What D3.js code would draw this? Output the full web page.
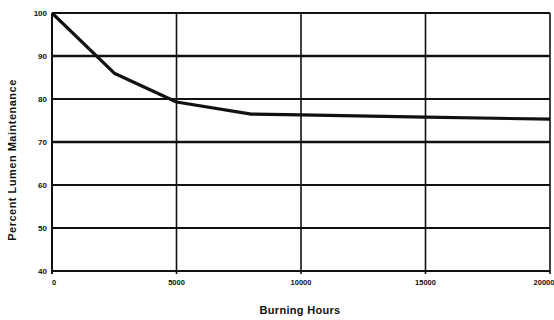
<!DOCTYPE html>
<html>
<head>
<meta charset="utf-8">
<script src="https://cdn.jsdelivr.net/npm/d3@7"></script>
<style>
  html, body { margin: 0; padding: 0; background: #fff; }
  svg { display: block; }
  text { font-family: "Liberation Sans", Arial, sans-serif; font-weight: bold; fill: #111; }
</style>
</head>
<body>
<svg id="chart" width="554" height="320"></svg>
<script>
// Lumen maintenance curve: burning hours vs. percent of initial output
const hours   = [0, 2500, 5000, 8000, 10000, 15000, 20000];
const percent = [100, 86.0, 79.3, 76.5, 76.3, 75.8, 75.3];

const xTicks = [0, 5000, 10000, 15000, 20000];
const yTicks = [40, 50, 60, 70, 80, 90, 100];

const xTitle = "Burning Hours";
const yTitle = "Percent Lumen Maintenance";

const svg = d3.select("#chart");
const margin = { left: 52, right: 4, top: 13, bottom: 49 };
const W = 554, H = 320;

const x = d3.scaleLinear().domain([0, 20000]).range([margin.left, W - margin.right]);
const y = d3.scaleLinear().domain([40, 100]).range([H - margin.bottom, margin.top]);

// vertical gridlines
svg.append("g")
  .selectAll("line")
  .data(xTicks)
  .join("line")
  .attr("x1", d => x(d)).attr("x2", d => x(d))
  .attr("y1", y(100)).attr("y2", y(40) + 3)
  .attr("stroke", "#111")
  .attr("stroke-width", d => d === 0 ? 2 : 1.6);

// horizontal gridlines
svg.append("g")
  .selectAll("line")
  .data(yTicks)
  .join("line")
  .attr("x1", x(0)).attr("x2", x(20000))
  .attr("y1", d => y(d)).attr("y2", d => y(d))
  .attr("stroke", "#111")
  .attr("stroke-width", d => (d === 90 || d === 70) ? 2.6 : 2.2);

// y tick labels
svg.append("g")
  .selectAll("text")
  .data(yTicks)
  .join("text")
  .attr("x", x(0) - 5)
  .attr("y", d => y(d))
  .attr("dy", "0.35em")
  .attr("text-anchor", "end")
  .attr("font-size", 8)
  .text(d => d);

// x tick labels
svg.append("g")
  .selectAll("text")
  .data(xTicks)
  .join("text")
  .attr("x", d => d === 0 ? x(d) + 2 : (d === 20000 ? x(d) - 6 : x(d)))
  .attr("y", y(40) + 14)
  .attr("text-anchor", "middle")
  .attr("font-size", 7.5)
  .text(d => d);

// curve
const line = d3.line()
  .x((d, i) => x(hours[i]))
  .y(d => y(d));

svg.append("path")
  .datum(percent)
  .attr("d", line)
  .attr("fill", "none")
  .attr("stroke", "#111")
  .attr("stroke-width", 3.2)
  .attr("stroke-linejoin", "round");

// axis titles
svg.append("text")
  .attr("x", 300)
  .attr("y", 314)
  .attr("text-anchor", "middle")
  .attr("font-size", 11)
  .attr("letter-spacing", 0.3)
  .text(xTitle);

svg.append("text")
  .attr("transform", "translate(16,160) rotate(-90)")
  .attr("text-anchor", "middle")
  .attr("font-size", 11)
  .attr("letter-spacing", 0.5)
  .text(yTitle);
</script>
</body>
</html>
